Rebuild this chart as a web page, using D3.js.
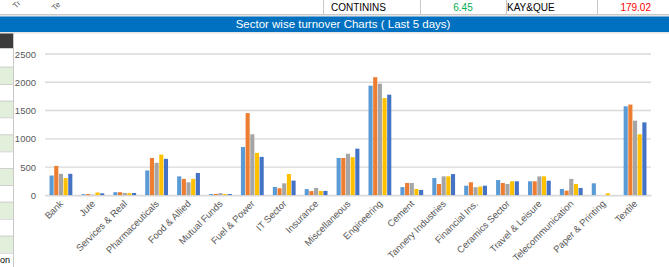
<!DOCTYPE html>
<html><head><meta charset="utf-8">
<script src="https://cdn.jsdelivr.net/npm/d3@7"></script>
<style>
html,body{margin:0;padding:0;background:#fff;overflow:hidden;}
svg{display:block;}
text{font-family:"Liberation Sans",Arial,sans-serif;}
</style></head>
<body>
<script>
const categories = ["Bank","Jute","Services & Real","Pharmaceuticals","Food & Allied","Mutual Funds","Fuel & Power","IT Sector","Insurance","Miscellaneous","Engineering","Cement","Tannery Industries","Financial Ins.","Ceramics Sector","Travel & Leisure","Telecommunication","Paper & Printing","Textile"];
const day1 = [350, 20, 55, 440, 335, 22, 855, 148, 110, 660, 1940, 145, 305, 170, 270, 248, 112, 212, 1575];
const day2 = [520, 22, 55, 660, 290, 25, 1455, 125, 75, 660, 2090, 218, 200, 230, 218, 248, 82, 0, 1605];
const day3 = [380, 12, 40, 575, 230, 38, 1080, 212, 130, 735, 1975, 218, 335, 142, 200, 335, 290, 0, 1320];
const day4 = [305, 50, 38, 720, 290, 22, 750, 378, 78, 675, 1720, 112, 335, 155, 248, 335, 200, 35, 1080];
const day5 = [380, 35, 40, 645, 395, 22, 680, 260, 78, 825, 1780, 95, 375, 170, 248, 258, 130, 0, 1290];
const seriesNames = ["Day 1","Day 2","Day 3","Day 4","Day 5"];
const yTicks = [0, 500, 1000, 1500, 2000, 2500];
const title = "Sector wise turnover Charts ( Last 5 days)";
const topRow = ["CONTININS", "6.45", "KAY&QUE", "179.02"];
const colors = ["#5B9BD5","#ED7D31","#A5A5A5","#FFC000","#4472C4"];

const W = 669, H = 267;
const svg = d3.select("body").append("svg").attr("width", W).attr("height", H);

// top spreadsheet row fragment
[323, 420, 506, 597].forEach(x => svg.append("line").attr("x1",x+0.5).attr("x2",x+0.5).attr("y1",0).attr("y2",15).attr("stroke","#c8c8c8"));
svg.append("line").attr("x1",0).attr("x2",W).attr("y1",14.5).attr("y2",14.5).attr("stroke","#c8c8c8");
svg.append("rect").attr("x",0).attr("y",15).attr("width",W).attr("height",1.5).attr("fill","#e4e4e4");
svg.append("text").attr("x",331).attr("y",11).attr("font-size","10px").attr("fill","#000").text(topRow[0]);
svg.append("text").attr("x",463).attr("y",11).attr("text-anchor","middle").attr("font-size","10px").attr("fill","#00B050").text(topRow[1]);
svg.append("text").attr("x",507).attr("y",11).attr("text-anchor","start").attr("font-size","10px").attr("fill","#000").text(topRow[2]);
svg.append("text").attr("x",651).attr("y",11).attr("text-anchor","end").attr("font-size","10px").attr("fill","#FF0000").text(topRow[3]);
// fragments of rotated labels from the chart above
svg.append("text").attr("transform","translate(16,9) rotate(-45)").attr("font-size","8px").attr("fill","#595959").text("Tr");
svg.append("text").attr("transform","translate(55,11) rotate(-45)").attr("font-size","8px").attr("fill","#595959").text("Te");

// blue title band
svg.append("rect").attr("x",0).attr("y",16.5).attr("width",W).attr("height",15.5).attr("fill","#0070C0");
svg.append("text").attr("x",343).attr("y",28.2).attr("text-anchor","middle").attr("font-size","11.5px").attr("fill","#fff").text(title);
svg.append("rect").attr("x",0).attr("y",32).attr("width",W).attr("height",1.5).attr("fill","#e4e4e4");

// left column of cells
const rowEdges = [48, 66.7, 84, 100.7, 117.3, 134.3, 151.3, 168, 185, 201.7, 218.7, 235.7, 252.7, 267];
svg.append("rect").attr("x",0).attr("y",33.5).attr("width",13).attr("height",14.5).attr("fill","#3b3b3b");
for (let i = 0; i < rowEdges.length - 1; i++) {
  svg.append("rect").attr("x",0).attr("y",rowEdges[i]).attr("width",13).attr("height",rowEdges[i+1]-rowEdges[i])
    .attr("fill", i % 2 === 0 ? "#ffffff" : "#E2EFDA");
  svg.append("line").attr("x1",0).attr("x2",13).attr("y1",rowEdges[i]+0.5).attr("y2",rowEdges[i]+0.5).attr("stroke","#d0d0d0");
}
svg.append("line").attr("x1",13.5).attr("x2",13.5).attr("y1",33).attr("y2",H).attr("stroke","#c8c8c8");
svg.append("text").attr("x",0).attr("y",263).attr("font-size","9px").attr("fill","#000").text("on");

// chart
const x0 = d3.scaleBand().domain(categories).range([45, 651]).paddingInner(0.25).paddingOuter(0.125);
const x1 = d3.scaleBand().domain(seriesNames).range([0, x0.bandwidth()]).padding(0.12);
const y = d3.scaleLinear().domain([0, 2500]).range([195.3, 54]);

const grid = svg.append("g");
yTicks.forEach(t => {
  grid.append("line").attr("x1",45).attr("x2",651).attr("y1",y(t)).attr("y2",y(t))
    .attr("stroke","#d9d9d9").attr("stroke-width",1.3);
});
const yAxis = d3.axisLeft(y).tickValues(yTicks).tickFormat(d3.format("d")).tickSize(0).tickPadding(0);
const ya = svg.append("g").attr("transform","translate(36,0)").call(yAxis);
ya.select(".domain").remove();
ya.selectAll("text").attr("font-size","9.5px").attr("fill","#595959").attr("font-family","'Liberation Sans',Arial,sans-serif");

const all = [day1, day2, day3, day4, day5];
const groups = svg.append("g").selectAll("g").data(categories).join("g")
  .attr("transform", d => `translate(${x0(d)},0)`);
groups.selectAll("rect").data((d, i) => all.map((s, k) => ({k, v: s[i]}))).join("rect")
  .attr("x", d => x1(seriesNames[d.k]))
  .attr("width", x1.bandwidth())
  .attr("y", d => y(d.v))
  .attr("height", d => y(0) - y(d.v))
  .attr("fill", d => colors[d.k]);

const xAxis = d3.axisBottom(x0).tickSize(0).tickPadding(0);
const xa = svg.append("g").attr("transform",`translate(0,${y(0)})`).call(xAxis);
xa.select(".domain").attr("stroke","#d9d9d9").attr("stroke-width",1.3);
xa.selectAll("text")
  .attr("font-size","9.5px").attr("fill","#595959").attr("font-family","'Liberation Sans',Arial,sans-serif")
  .attr("text-anchor","end").attr("dy","0").attr("y",0)
  .attr("transform","translate(3,9) rotate(-45)");
</script>
</body></html>
